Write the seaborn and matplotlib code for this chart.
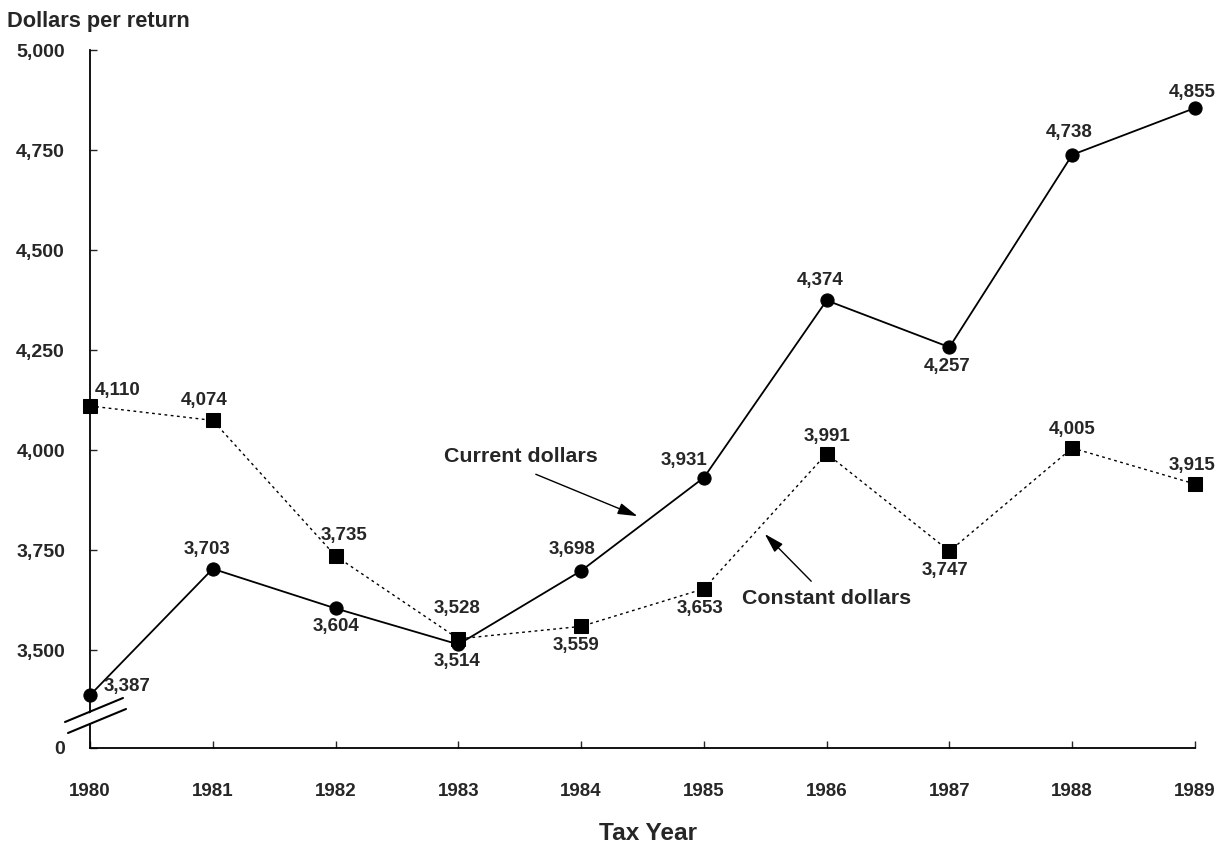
import pandas as pd
import numpy as np
import seaborn as sns
import matplotlib.pyplot as plt
from matplotlib.patches import Polygon

years = [1980, 1981, 1982, 1983, 1984, 1985, 1986, 1987, 1988, 1989]
current = [3387, 3703, 3604, 3514, 3698, 3931, 4374, 4257, 4738, 4855]
constant = [4110, 4074, 3735, 3528, 3559, 3653, 3991, 3747, 4005, 3915]
ytick_vals = [3255, 3500, 3750, 4000, 4250, 4500, 4750, 5000]
ytick_labels = ['0', '3,500', '3,750', '4,000', '4,250', '4,500', '4,750', '5,000']

# label offsets in points (dx, dy) for each point
cur_off = [(26.5, 6), (-4, 14), (0, -13), (-1, -12), (-6.5, 15), (-14, 12), (-5, 14.5), (-2, -14), (-2, 16), (-2, 11.5)]
con_off = [(20, 11.5), (-6.5, 14.5), (6, 14.5), (-1, 22), (-3.5, -14), (-3, -14), (0, 12), (-3, -14), (0, 13.5), (-2, 13)]

df = pd.DataFrame({'year': years, 'current': current, 'constant': constant})

sns.set_style('white')
plt.rcParams['font.family'] = ['Liberation Sans', 'DejaVu Sans']
plt.rcParams['font.weight'] = 'bold'

fig = plt.figure(figsize=(12.19, 8.43), dpi=100)
ax = fig.add_axes([90 / 1219, 1 - 748 / 843, 1105 / 1219, 698 / 843])

sns.lineplot(data=df, x='year', y='current', ax=ax, color='black', lw=1.3,
             marker='o', markersize=9.5, markeredgecolor='black', clip_on=False)
sns.lineplot(data=df, x='year', y='constant', ax=ax, color='black', lw=1.0,
             linestyle=(0, (2, 2.5)), marker='s', markersize=9.5,
             markeredgecolor='black', clip_on=False)

for x, y, (dx, dy) in zip(years, current, cur_off):
    ax.annotate(f'{y:,}', (x, y), xytext=(dx, dy), textcoords='offset points',
                ha='center', va='center', fontsize=13.5, fontweight='bold')
for x, y, (dx, dy) in zip(years, constant, con_off):
    ax.annotate(f'{y:,}', (x, y), xytext=(dx, dy), textcoords='offset points',
                ha='center', va='center', fontsize=13.5, fontweight='bold')

ax.set_xlim(1980, 1989)
ax.set_ylim(3255, 5000)
ax.set_xticks(years)
ax.set_xticklabels([str(y) for y in years], fontsize=13.5, fontweight='bold')
ax.set_yticks(ytick_vals)
ax.set_yticklabels(ytick_labels, fontsize=14, fontweight='bold')
ax.tick_params(axis='x', direction='in', length=5, width=1, pad=25, bottom=True)
ax.tick_params(axis='y', direction='in', length=5, width=1, pad=18, left=True)
ax.set_xlabel('')
ax.set_ylabel('')
for s in ['top', 'right']:
    ax.spines[s].set_visible(False)
for s in ['left', 'bottom']:
    ax.spines[s].set_color('black')
    ax.spines[s].set_linewidth(1.3)

# axis break marks
to_fig = lambda x, y: (x / 1219, 1 - y / 843)
gap = Polygon([to_fig(66, 723), to_fig(124, 699), to_fig(126, 709), to_fig(68, 733)],
              closed=True, transform=fig.transFigure, facecolor='white',
              edgecolor='none', zorder=5)
fig.patches.append(gap)
for (x0, y0), (x1, y1) in [((65, 722), (123, 698)), ((68, 733), (126, 709))]:
    fig.add_artist(plt.Line2D([x0 / 1219, x1 / 1219], [1 - y0 / 843, 1 - y1 / 843],
                              transform=fig.transFigure, color='black', lw=1.5, zorder=6))

# series callouts
ax.text(1983.51, 3985, 'Current dollars', ha='center', va='center', fontsize=15.4, fontweight='bold')
ax.annotate('', xy=(1984.48, 3832), xytext=(1983.61, 3942),
            arrowprops=dict(arrowstyle='-|>,head_length=1.2,head_width=0.35', color='black', lw=1))
ax.text(1986.0, 3630, 'Constant dollars', ha='center', va='center', fontsize=15.4, fontweight='bold')
ax.annotate('', xy=(1985.48, 3795), xytext=(1985.89, 3667),
            arrowprops=dict(arrowstyle='-|>,head_length=1.2,head_width=0.35', color='black', lw=1))

fig.text(7 / 1219, 1 - 21 / 843, 'Dollars per return', ha='left', va='center',
         fontsize=15.7, fontweight='bold')
fig.text(648 / 1219, 1 - 833 / 843, 'Tax Year', ha='center', va='center',
         fontsize=17.6, fontweight='bold')

fig.savefig('out.png', dpi=100)
